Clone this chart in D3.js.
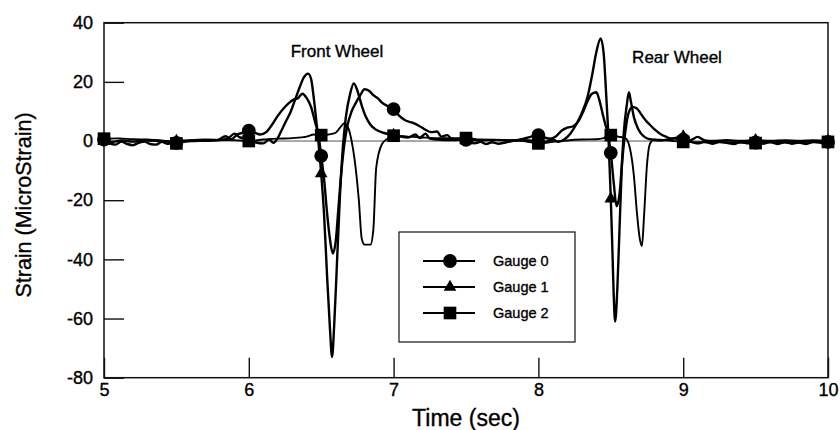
<!DOCTYPE html>
<html>
<head>
<meta charset="utf-8">
<script src="https://cdn.jsdelivr.net/npm/d3@7"></script>
<style>
  html, body { margin: 0; padding: 0; background: #fff; }
  svg { display: block; font-family: "Liberation Sans", Arial, Helvetica, sans-serif; }
  text { fill: #000; stroke: #000; stroke-width: 0.35px; }
</style>
</head>
<body>
<svg id="chart" width="840" height="430"></svg>
<script>
// Strain records of three gauges as a truck passes (time in s, strain in microstrain)
const gauge0 = [
  [5.00,0.5],[5.04,-0.8],[5.08,-1.2],[5.12,-0.2],[5.16,-1.0],[5.20,-1.4],[5.24,-0.6],[5.28,-0.2],
  [5.32,-1.0],[5.36,-1.2],[5.40,-0.3],[5.44,-0.9],[5.50,-0.6],[5.56,-0.2],[5.62,0.0],[5.70,0.2],
  [5.78,0.3],[5.84,1.6],[5.88,0.6],[5.92,2.2],[5.96,2.8],[6.00,3.5],[6.04,2.8],[6.08,2.2],
  [6.12,3.0],[6.16,5.5],[6.20,8.5],[6.24,11.0],[6.28,13.0],[6.31,14.0],[6.34,14.5],[6.37,16.0],
  [6.40,14.5],[6.43,11.5],[6.46,6.0],[6.48,2.5],[6.50,-5.0],[6.52,-13],[6.54,-24],[6.56,-33],
  [6.58,-38],[6.60,-34],[6.62,-22],[6.64,-10],[6.66,-1],[6.68,5],[6.71,10],[6.74,13],
  [6.77,15.5],[6.80,17.5],[6.83,17.0],[6.86,15.5],[6.89,14.5],[6.92,13.0],[6.96,11.8],[7.00,10.8],
  [7.04,8.5],[7.08,7.0],[7.13,6.2],[7.18,5.0],[7.22,3.8],[7.26,3.0],[7.30,3.2],[7.33,1.5],
  [7.37,2.0],[7.40,0.8],[7.45,0.5],[7.50,0.4],[7.56,-0.8],[7.60,-0.3],[7.64,-1.0],[7.68,-0.4],
  [7.72,-0.9],[7.78,-0.4],[7.84,0.2],[7.90,0.8],[7.95,1.5],[8.00,2.0],[8.04,1.2],[8.08,0.8],
  [8.12,1.5],[8.16,3.5],[8.20,4.5],[8.24,5.0],[8.28,7.0],[8.31,10.0],[8.34,13.5],[8.37,16.0],
  [8.40,16.5],[8.42,14.0],[8.44,10.0],[8.46,6.0],[8.48,2.5],[8.50,-4.0],[8.52,-14],[8.54,-22],
  [8.56,-18],[8.58,-6],[8.60,3],[8.62,9],[8.65,11.5],[8.68,11.0],[8.71,9.0],[8.74,7.0],
  [8.77,5.5],[8.80,4.0],[8.84,2.5],[8.88,1.5],[8.92,0.8],[8.96,0.8],[9.00,0.5],[9.05,-0.2],
  [9.10,-0.8],[9.15,-0.2],[9.20,-0.9],[9.25,-0.3],[9.30,-0.6],[9.35,-1.0],[9.40,-0.2],[9.45,-0.8],
  [9.50,-0.5],[9.55,-0.9],[9.60,-0.3],[9.65,-1.0],[9.70,-0.4],[9.75,-0.9],[9.80,-0.5],[9.85,-1.0],
  [9.90,-0.3],[9.95,-0.6],[10.00,-0.3]
];
const gauge1 = [
  [5.00,0.0],[5.06,-0.3],[5.12,0.2],[5.20,-0.2],[5.30,0.2],[5.40,-0.1],[5.50,0.0],[5.60,0.2],
  [5.70,0.1],[5.80,0.3],[5.86,1.0],[5.90,2.5],[5.94,1.2],[6.00,0.8],[6.05,-0.5],[6.10,-0.8],
  [6.14,0.5],[6.17,-0.6],[6.20,1.0],[6.23,4],[6.26,7],[6.29,10],[6.32,14],[6.35,18],
  [6.38,21.5],[6.41,22.8],[6.43,21],[6.45,14],[6.47,5],[6.48,0],[6.50,-11],[6.52,-25],
  [6.54,-45],[6.56,-63],[6.575,-73],[6.59,-62],[6.61,-40],[6.63,-18],[6.65,-2],[6.67,8],
  [6.70,16],[6.725,19.5],[6.75,17],[6.78,12],[6.81,8],[6.84,5.5],[6.88,3.8],[6.93,2.8],
  [7.00,2.0],[7.05,1.5],[7.10,1.2],[7.15,2.2],[7.18,1.0],[7.22,2.5],[7.25,0.8],[7.30,0.5],
  [7.40,0.3],[7.50,0.5],[7.60,0.2],[7.70,0.4],[7.80,0.2],[7.90,0.3],[8.00,0.0],[8.05,-0.2],
  [8.10,0.5],[8.14,-0.3],[8.18,0.6],[8.22,2.5],[8.26,5.5],[8.30,9.5],[8.34,15],[8.37,22],
  [8.40,30],[8.43,34.7],[8.45,30],[8.47,14],[8.485,0],[8.50,-19.5],[8.51,-35],[8.52,-52],
  [8.53,-61],[8.545,-50],[8.56,-30],[8.575,-10],[8.59,3],[8.61,12],[8.625,16.5],[8.64,13],
  [8.66,8],[8.69,4],[8.73,1.5],[8.78,0.5],[8.85,0.2],[8.92,0.8],[9.00,1.5],[9.05,0.3],
  [9.10,1.4],[9.15,0.2],[9.20,0.0],[9.30,0.3],[9.40,0.0],[9.50,0.2],[9.60,0.0],[9.70,0.2],
  [9.80,0.0],[9.90,0.2],[10.00,0.0]
];
const gauge2 = [
  [5.00,0.8],[5.10,0.9],[5.20,0.6],[5.30,0.5],[5.40,0.2],[5.50,-0.8],[5.60,0.3],[5.70,0.5],
  [5.80,0.4],[5.90,0.3],[6.00,0.0],[6.10,0.5],[6.20,0.8],[6.30,1.0],[6.40,1.5],[6.45,2.2],
  [6.50,2.0],[6.55,2.2],[6.60,2.8],[6.63,4.5],[6.66,6.0],[6.69,4.0],[6.71,0],[6.73,-6],
  [6.76,-20],[6.78,-33],[6.80,-35],[6.84,-35],[6.86,-30],[6.88,-9],[6.92,-1],[6.96,0.8],
  [7.00,1.8],[7.10,1.5],[7.20,1.2],[7.30,1.0],[7.40,1.0],[7.50,1.0],[7.60,0.5],[7.70,0.4],
  [7.80,0.3],[7.90,0.0],[8.00,-0.8],[8.10,-0.3],[8.20,0.2],[8.30,0.5],[8.40,0.6],[8.45,1.0],
  [8.50,2.0],[8.55,1.5],[8.60,1.0],[8.63,-2],[8.66,-12],[8.68,-24],[8.70,-33],[8.715,-35.5],
  [8.73,-25],[8.75,-8],[8.77,-1],[8.80,0.5],[8.90,0.2],[9.00,-0.3],[9.10,-0.4],[9.20,-0.5],
  [9.30,-0.4],[9.40,-0.6],[9.50,-0.7],[9.60,-0.5],[9.70,-0.4],[9.80,-0.5],[9.90,-0.4],[10.00,-0.3]
];

const gauges = [
  { name: "Gauge 0", data: gauge0, symbol: d3.symbolCircle, size: 150, width: 2.4 },
  { name: "Gauge 1", data: gauge1, symbol: d3.symbolTriangle, size: 70, width: 2.4 },
  { name: "Gauge 2", data: gauge2, symbol: d3.symbolSquare, size: 160, width: 1.9 }
];

const xTicks = [5, 6, 7, 8, 9, 10];
const yTicks = [-80, -60, -40, -20, 0, 20, 40];

const svg = d3.select("#chart");
const margin = { left: 104, right: 12, top: 22.7, bottom: 52.3 };
const W = 840, H = 430;

const x = d3.scaleLinear().domain([5, 10]).range([margin.left, W - margin.right]);
const y = d3.scaleLinear().domain([-80, 40]).range([H - margin.bottom, margin.top]);

// plain hyphen for negative tick labels
const plain = d => String(d);

// zero reference line
svg.append("line")
  .attr("x1", x(5)).attr("x2", x(10))
  .attr("y1", y(0)).attr("y2", y(0))
  .attr("stroke", "#555").attr("stroke-width", 1);

// axes with inward ticks
const xAxis = svg.append("g")
  .attr("transform", `translate(0,${y(-80)})`)
  .call(d3.axisBottom(x).tickValues(xTicks).tickFormat(plain)
    .tickSizeInner(-20).tickSizeOuter(0).tickPadding(6));
const yAxis = svg.append("g")
  .attr("transform", `translate(${x(5)},0)`)
  .call(d3.axisLeft(y).tickValues(yTicks).tickFormat(plain)
    .tickSizeInner(-20).tickSizeOuter(0).tickPadding(11));
[xAxis, yAxis].forEach(g => {
  g.select(".domain").remove();
  g.selectAll(".tick line").attr("stroke", "#111").attr("stroke-width", 1.4);
  g.selectAll(".tick text").attr("fill", "#000").style("font-size", "18px")
    .style("font-family", "'Liberation Sans', Arial, sans-serif");
});

// plot frame
svg.append("rect")
  .attr("x", x(5)).attr("y", y(40))
  .attr("width", x(10) - x(5)).attr("height", y(-80) - y(40))
  .attr("fill", "none").attr("stroke", "#111").attr("stroke-width", 1.5);

// series lines
const line = d3.line().x(d => x(d[0])).y(d => y(d[1])).curve(d3.curveMonotoneX);
gauges.forEach(g => {
  svg.append("path")
    .datum(g.data)
    .attr("d", line)
    .attr("fill", "none")
    .attr("stroke", "#000")
    .attr("stroke-width", g.width)
    .attr("stroke-linejoin", "round");
});

// markers every half second
gauges.forEach(g => {
  svg.append("g").selectAll("path")
    .data(g.data.filter(d => Math.abs(d[0] * 2 - Math.round(d[0] * 2)) < 1e-6))
    .join("path")
    .attr("transform", d => `translate(${x(d[0])},${y(d[1])})`)
    .attr("d", d3.symbol().type(g.symbol).size(g.size))
    .attr("fill", "#000");
});

// annotations
svg.append("text").attr("x", 337).attr("y", 57).attr("text-anchor", "middle")
  .style("font-size", "17px").text("Front Wheel");
svg.append("text").attr("x", 677).attr("y", 63).attr("text-anchor", "middle")
  .style("font-size", "17px").text("Rear Wheel");

// axis titles
svg.append("text").attr("x", x(7.5)).attr("y", 426).attr("text-anchor", "middle")
  .style("font-size", "23px").text("Time (sec)");
svg.append("text")
  .attr("transform", `translate(31,${205}) rotate(-90)`)
  .attr("text-anchor", "middle")
  .style("font-size", "21.5px").text("Strain (MicroStrain)");

// legend
const legend = svg.append("g").attr("transform", "translate(399,232)");
legend.append("rect").attr("width", 176).attr("height", 110)
  .attr("fill", "#fff").attr("stroke", "#111").attr("stroke-width", 1.2);
gauges.forEach((g, i) => {
  const ly = 29 + i * 26;
  legend.append("line").attr("x1", 24).attr("x2", 76).attr("y1", ly).attr("y2", ly)
    .attr("stroke", "#000").attr("stroke-width", 2);
  legend.append("path").attr("transform", `translate(51,${ly})`)
    .attr("d", d3.symbol().type(g.symbol).size(g.size)).attr("fill", "#000");
  legend.append("text").attr("x", 94).attr("y", ly + 5)
    .style("font-size", "14.5px").text(g.name);
});
</script>
</body>
</html>
